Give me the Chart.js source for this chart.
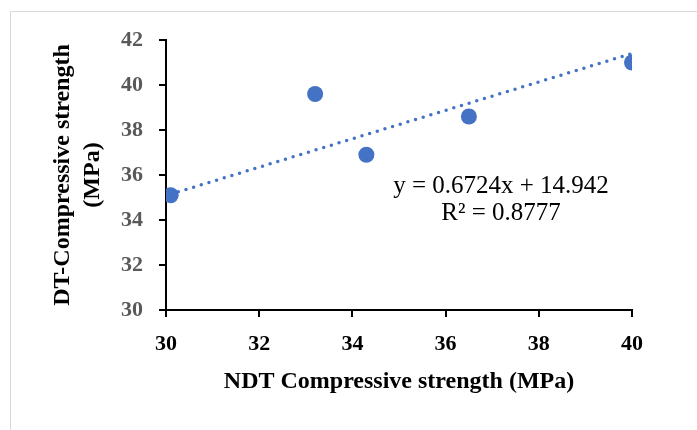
<!DOCTYPE html>
<html>
<head>
<meta charset="utf-8">
<script src="https://cdn.jsdelivr.net/npm/chart.js@4/dist/chart.umd.min.js"></script>
<style>
    html, body { margin: 0; padding: 0; background: #fff; }
    #wrap { position: relative; width: 697px; height: 430px; overflow: hidden; }
    #frame { position: absolute; left: 10px; top: 11px; width: 720px; height: 440px; border: 1px solid #d9d9d9; }
    canvas { position: absolute; left: 0; top: 0; }
</style>
</head>
<body>
<div id="wrap">
    <div id="frame"></div>
    <canvas id="chart" width="697" height="430"></canvas>
</div>
<script>
// Data
const ndtStrength = [30.1, 33.2, 34.3, 36.5, 40.0];
const dtStrength = [35.1, 39.6, 36.9, 38.6, 41.0];
const trendX = [30.1, 40.0];
const trendY = [35.15, 41.4];
const equationLines = ['y = 0.6724x + 14.942', 'R\u00b2 = 0.8777'];

const serif = "'Liberation Serif', 'DejaVu Serif', serif";
const blue = '#4472C4';

// Equation label under the trendline
const equationPlugin = {
    id: 'equation',
    afterDatasetsDraw(chart) {
        const ctx = chart.ctx;
        ctx.save();
        ctx.font = '25px ' + serif;
        ctx.fillStyle = '#000';
        ctx.textAlign = 'center';
        ctx.textBaseline = 'middle';
        ctx.fillText(equationLines[0], 501, 186);
        ctx.fillText(equationLines[1], 501, 213);
        ctx.restore();
    }
};

const ctx = document.getElementById('chart').getContext('2d');
new Chart(ctx, {
    type: 'scatter',
    data: {
        datasets: [
            {
                type: 'line',
                data: trendX.map((x, i) => ({ x: x, y: trendY[i] })),
                borderColor: blue,
                borderWidth: 3.5,
                borderDash: [0, 8],
                borderCapStyle: 'round',
                pointRadius: 0,
                fill: false
            },
            {
                data: ndtStrength.map((x, i) => ({ x: x, y: dtStrength[i] })),
                backgroundColor: blue,
                borderWidth: 0,
                pointRadius: 8
            }
        ]
    },
    options: {
        responsive: false,
        animation: false,
        devicePixelRatio: 1,
        layout: { padding: { left: 0, top: 40, right: 65, bottom: 0 } },
        plugins: { legend: { display: false }, tooltip: { enabled: false } },
        scales: {
            x: {
                type: 'linear',
                min: 30,
                max: 40,
                afterFit(scale) { scale.height = 120; },
                ticks: { stepSize: 2, color: '#000', padding: 14, font: { family: serif, size: 22, weight: 'bold' } },
                grid: { drawOnChartArea: false, drawTicks: true, tickLength: 7, color: '#000', lineWidth: 2 },
                border: { color: '#000', width: 2 },
                title: {
                    display: true,
                    text: 'NDT Compressive strength (MPa)',
                    color: '#000',
                    font: { family: serif, size: 24, weight: 'bold', lineHeight: 1.2 },
                    padding: { top: 0, bottom: 34 }
                }
            },
            y: {
                min: 30,
                max: 42,
                afterFit(scale) { scale.width = 166; },
                ticks: { stepSize: 2, color: '#595959', padding: 16, font: { family: serif, size: 22, weight: 'bold' } },
                grid: { drawOnChartArea: false, drawTicks: true, tickLength: 7, color: '#000', lineWidth: 2 },
                border: { color: '#000', width: 2 },
                title: {
                    display: true,
                    text: ['DT-Compressive strength', '(MPa)'],
                    color: '#000',
                    font: { family: serif, size: 24, weight: 'bold', lineHeight: 1.25 },
                    padding: { top: 48, bottom: 0 }
                }
            }
        }
    },
    plugins: [equationPlugin]
});
</script>
</body>
</html>
